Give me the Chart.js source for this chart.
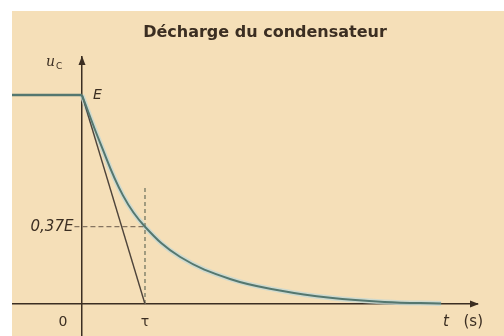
<!DOCTYPE html>
<html lang="fr">
<head>
<meta charset="utf-8">
<title>Décharge du condensateur</title>
<script src="https://cdn.jsdelivr.net/npm/chart.js@4.4.1/dist/chart.umd.min.js"></script>
<style>
    html, body { margin: 0; padding: 0; background: #ffffff; }
    .panel {
        position: absolute;
        left: 12px;
        top: 11px;
        width: 492px;
        height: 325px;
        background: #f5dfb8;
    }
</style>
</head>
<body>
<div class="panel"><canvas id="decharge"></canvas></div>
<script>
/* global Chart */

// time in units of tau, tension in units of E
const timeTau = [0, 0.29, 0.65, 1, 1.56, 2.35, 3.14, 3.94, 4.8, 5.7];
const ucOverE = [1, 0.77, 0.52, 0.37, 0.225, 0.12, 0.065, 0.03, 0.01, 0.002];

// before t = 0 the capacitor stays charged at E
const beforeTimes = [-1.111, 0];
const beforeValues = [1, 1];

// tangent at the origin reaches the axis at tau
const tangentTimes = [0, 1];
const tangentValues = [1, 0];

const tauValue = 1;
const residualValue = 0.37;
const tauGuideTop = 0.57;
const residualGuideStart = -0.12;

const xTickLabels = ['0', 'τ'];
const xTickValues = [0, tauValue];
const yTickLabels = ['E', '0,37E'];
const yTickValues = [1, residualValue];

const TITLE = 'Décharge du condensateur';
const INK = '#3b2e22';
const CURVE = '#54776f';

function toPoints(xs, ys) {
    return xs.map((x, i) => ({ x, y: ys[i] }));
}

function drawArrow(ctx, x, y, dir) {
    ctx.beginPath();
    if (dir === 'up') {
        ctx.moveTo(x, y);
        ctx.lineTo(x - 3.5, y + 9);
        ctx.lineTo(x + 3.5, y + 9);
    } else {
        ctx.moveTo(x, y);
        ctx.lineTo(x - 9, y - 3.5);
        ctx.lineTo(x - 9, y + 3.5);
    }
    ctx.closePath();
    ctx.fill();
}

const axisDecor = {
    id: 'axisDecor',
    afterDatasetsDraw(chart) {
        const { ctx, chartArea, scales } = chart;
        const x0 = scales.x.getPixelForValue(0);
        const y0 = scales.y.getPixelForValue(0);

        ctx.save();
        ctx.fillStyle = INK;

        // title, a little right of centre
        ctx.font = 'bold 16px "DejaVu Sans", sans-serif';
        ctx.textAlign = 'center';
        ctx.textBaseline = 'middle';
        ctx.fillText(TITLE, chart.width / 2 + 7, 22);

        drawArrow(ctx, x0, chartArea.top - 1, 'up');
        drawArrow(ctx, chartArea.right + 2, y0, 'right');

        // y axis name u_C
        ctx.font = 'italic 14px "DejaVu Serif", serif';
        ctx.textAlign = 'right';
        ctx.fillText('u', x0 - 27, chartArea.top + 5);
        ctx.font = '9px "DejaVu Sans", sans-serif';
        ctx.textAlign = 'left';
        ctx.fillText('C', x0 - 26, chartArea.top + 10);

        // y tick labels
        ctx.font = 'italic 14px "DejaVu Sans", sans-serif';
        ctx.textAlign = 'left';
        ctx.fillText(yTickLabels[0], x0 + 11, scales.y.getPixelForValue(yTickValues[0]));
        ctx.font = 'italic 15px "DejaVu Sans", sans-serif';
        ctx.textAlign = 'right';
        ctx.fillText(yTickLabels[1], scales.x.getPixelForValue(residualGuideStart) - 1,
            scales.y.getPixelForValue(yTickValues[1]));

        // x tick labels
        ctx.font = '14px "DejaVu Sans", sans-serif';
        ctx.textAlign = 'center';
        ctx.fillText(xTickLabels[0], x0 - 19, y0 + 18);
        ctx.fillText(xTickLabels[1], scales.x.getPixelForValue(xTickValues[1]), y0 + 18);

        // axis name t (s)
        ctx.font = '15px "DejaVu Sans", sans-serif';
        ctx.textAlign = 'right';
        ctx.fillText('(s)', chartArea.right + 6, y0 + 18);
        ctx.font = 'italic 15px "DejaVu Sans", sans-serif';
        ctx.textAlign = 'left';
        ctx.fillText('t', chartArea.right - 34, y0 + 18);
        ctx.restore();
    }
};

const ctx = document.getElementById('decharge');
new Chart(ctx, {
    type: 'scatter',
    data: {
        // lower index is drawn on top
        datasets: [
            {
                label: 'u_C',
                data: toPoints(timeTau, ucOverE),
                showLine: true,
                borderColor: CURVE,
                borderWidth: 2,
                tension: 0.4,
                pointRadius: 0
            },
            {
                label: 'avant',
                data: toPoints(beforeTimes, beforeValues),
                showLine: true,
                borderColor: CURVE,
                borderWidth: 2.5,
                pointRadius: 0
            },
            {
                label: 'tangente',
                data: toPoints(tangentTimes, tangentValues),
                showLine: true,
                borderColor: '#4e443b',
                borderWidth: 1.4,
                pointRadius: 0
            },
            {
                label: 'tau',
                data: [{ x: tauValue, y: 0 }, { x: tauValue, y: tauGuideTop }],
                showLine: true,
                borderColor: '#8c8a72',
                borderWidth: 1.6,
                borderDash: [4, 3],
                pointRadius: 0
            },
            {
                label: '0,37E',
                data: [{ x: residualGuideStart, y: residualValue }, { x: tauValue, y: residualValue }],
                showLine: true,
                borderColor: '#857460',
                borderWidth: 1.2,
                borderDash: [5, 3],
                pointRadius: 0
            },
            {
                label: 'halo',
                data: toPoints(timeTau, ucOverE),
                showLine: true,
                borderColor: 'rgba(196, 216, 212, 0.8)',
                borderWidth: 5,
                tension: 0.4,
                pointRadius: 0
            }
        ]
    },
    options: {
        responsive: true,
        maintainAspectRatio: false,
        animation: false,
        layout: {
            padding: { left: 0, right: 27, top: 46, bottom: 0 }
        },
        plugins: {
            legend: { display: false },
            tooltip: { enabled: false },
            title: { display: false }
        },
        scales: {
            x: {
                type: 'linear',
                min: -1.111,
                max: 6.27,
                position: { y: 0 },
                grid: { display: false },
                ticks: { display: false },
                border: { display: true, color: INK, width: 1.5 }
            },
            y: {
                type: 'linear',
                min: -0.153,
                max: 1.182,
                position: { x: 0 },
                grid: { display: false },
                ticks: { display: false },
                border: { display: true, color: INK, width: 1.5 }
            }
        }
    },
    plugins: [axisDecor]
});
</script>
</body>
</html>
